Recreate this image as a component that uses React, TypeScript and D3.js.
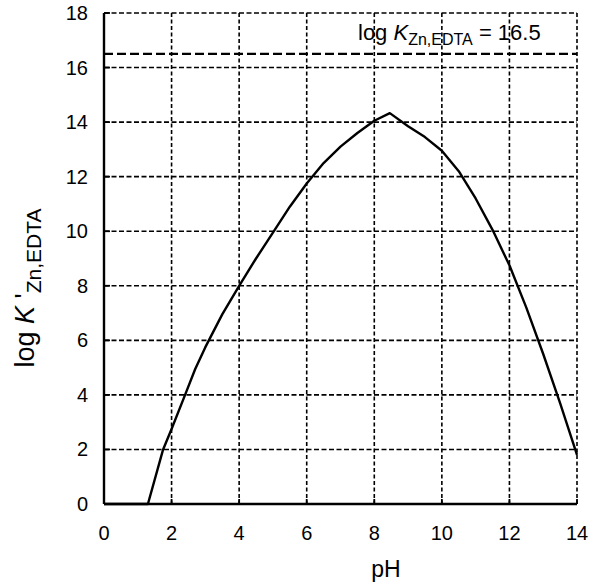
import React from "react";
import * as d3 from "d3";

const phValues = [0, 1.3, 1.75, 2.0, 2.4, 2.7, 3.0, 3.5, 4.0, 4.5, 5.0, 5.5, 6.0, 6.5, 7.0, 7.5, 8.0, 8.46, 9.0, 9.5, 10.0, 10.5, 11.0, 11.5, 12.0, 12.5, 13.0, 13.5, 14.0];
const logKValues = [0, 0, 2.0, 2.75, 4.0, 4.95, 5.75, 6.95, 8.0, 9.0, 9.95, 10.9, 11.75, 12.5, 13.1, 13.6, 14.05, 14.33, 13.85, 13.45, 12.95, 12.2, 11.2, 10.05, 8.75, 7.2, 5.5, 3.7, 1.8];
const xTicks = [0, 2, 4, 6, 8, 10, 12, 14];
const yTicks = [0, 2, 4, 6, 8, 10, 12, 14, 16, 18];
const logKZnEDTA = 16.5;

const FONT = "'Liberation Sans', Arial, sans-serif";

export default function App() {
  const W = 598, H = 587;
  const left = 104, right = 577, top = 13, bottom = 504;
  const x = d3.scaleLinear().domain([0, 14]).range([left, right]);
  const y = d3.scaleLinear().domain([0, 18]).range([bottom, top]);
  const pts = phValues.map((p, i) => [p, logKValues[i]] as [number, number]);
  const line = d3.line<[number, number]>().x(d => x(d[0])).y(d => y(d[1])).curve(d3.curveLinear);

  return (
    <svg width={W} height={H} style={{ position: "absolute", left: 0, top: 0, background: "#fff" }}>
      <rect width={W} height={H} fill="#fff" />
      {xTicks.filter(t => t > 0).map(t => (
        <line key={"vx" + t} x1={x(t)} x2={x(t)} y1={y(18)} y2={y(0)} stroke="#000" strokeWidth={1.6} strokeDasharray="4,2.5" />
      ))}
      {yTicks.filter(t => t > 0).map(t => (
        <line key={"hy" + t} x1={x(0)} x2={x(14)} y1={y(t)} y2={y(t)} stroke="#000" strokeWidth={1.6} strokeDasharray="5,2.5" />
      ))}
      {yTicks.map(t => (
        <line key={"ty" + t} x1={x(0)} x2={x(0) + 6} y1={y(t)} y2={y(t)} stroke="#000" strokeWidth={1.8} />
      ))}
      {xTicks.map(t => (
        <line key={"tx" + t} x1={x(t)} x2={x(t)} y1={y(0)} y2={y(0) - 5} stroke="#000" strokeWidth={1.8} />
      ))}
      <line x1={x(0)} x2={x(14)} y1={y(logKZnEDTA)} y2={y(logKZnEDTA)} stroke="#000" strokeWidth={2.2} strokeDasharray="9,4" />
      <line x1={x(0)} x2={x(0)} y1={y(18)} y2={y(0)} stroke="#000" strokeWidth={2.4} />
      <line x1={x(0)} x2={x(14)} y1={y(0)} y2={y(0)} stroke="#000" strokeWidth={2.4} />
      <path d={line(pts) || ""} fill="none" stroke="#000" strokeWidth={2.4} strokeLinejoin="round" />
      {xTicks.map(t => (
        <text key={"lx" + t} x={x(t)} y={540} textAnchor="middle" fontFamily={FONT} fontSize={20} fill="#000">{t}</text>
      ))}
      {yTicks.map(t => (
        <text key={"ly" + t} x={88} y={y(t) + 7} textAnchor="end" fontFamily={FONT} fontSize={20} fill="#000">{t}</text>
      ))}
      <text x={358} y={40} fontFamily={FONT} fontSize={22} fill="#000">
        log <tspan fontStyle="italic">K</tspan>
        <tspan fontSize={16} dy={5}>Zn,EDTA</tspan>
        <tspan dy={-5}> = 16.5</tspan>
      </text>
      <text x={386} y={577} textAnchor="middle" fontFamily={FONT} fontSize={23} fill="#000">pH</text>
      <text transform={`translate(34, ${288}) rotate(-90)`} textAnchor="middle" fontFamily={FONT} fontSize={27} fill="#000">
        log <tspan fontStyle="italic">K</tspan> '<tspan fontSize={21} dy={7}>Zn,EDTA</tspan>
      </text>
    </svg>
  );
}
